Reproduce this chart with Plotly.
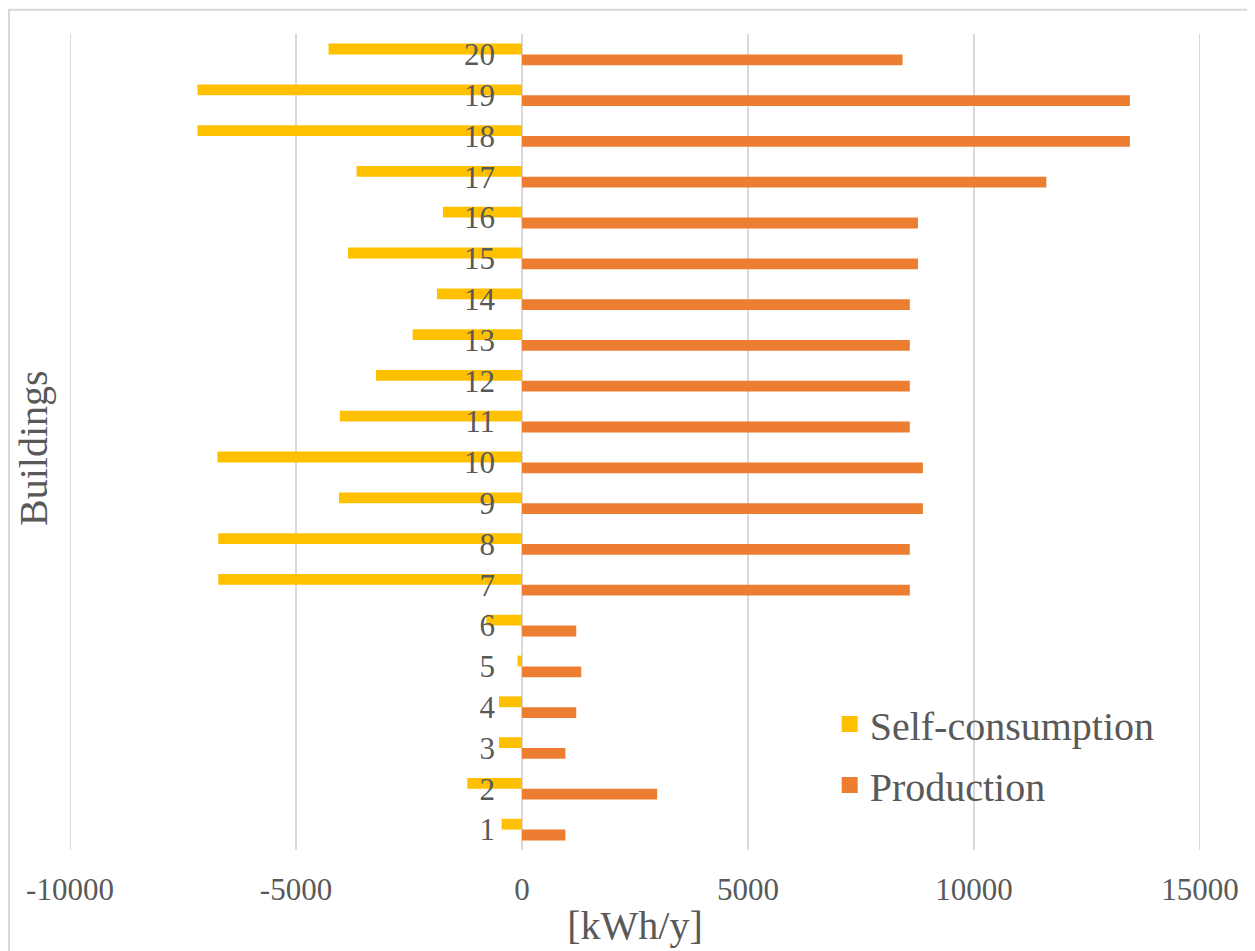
import plotly.graph_objects as go

buildings = [str(i) for i in range(1, 21)]
self_consumption = [-450, -1210, -510, -510, -100, -790, -6720, -6720, -4050, -6740,
                    -4030, -3230, -2420, -1880, -3850, -1750, -3660, -7180, -7180, -4280]
production = [960, 2990, 960, 1200, 1310, 1200, 8580, 8580, 8870, 8870,
              8580, 8580, 8580, 8580, 8760, 8760, 11600, 13450, 13450, 8420]
x_ticks = [-10000, -5000, 0, 5000, 10000, 15000]

YELLOW = "#FFC000"
ORANGE = "#ED7D31"
TEXT = "#595959"
GRID = "#D9D9D9"
FONT = "Times New Roman, Liberation Serif, serif"

# page has an 8px body margin; figure coordinates = page coordinates - 8
OFF = 8
W, H = 1255 - OFF, 951 - OFF
L = 70 - OFF
T = 33.5 - OFF
R = W - (1200.5 - OFF)
B = H - (854.5 - OFF)
pw = W - L - R
ph = H - T - B


def px_x(p):
    return (p - OFF - L) / pw


def px_y(p):
    return (H - B - (p - OFF)) / ph


fig = go.Figure()
fig.add_trace(go.Bar(y=buildings, x=production, orientation="h", name="Production",
                     marker=dict(color=ORANGE, line=dict(width=0)), showlegend=False))
fig.add_trace(go.Bar(y=buildings, x=self_consumption, orientation="h", name="Self-consumption",
                     marker=dict(color=YELLOW, line=dict(width=0)), showlegend=False))
# legend entries
fig.add_trace(go.Scatter(x=[None], y=[None], mode="markers", name="Self-consumption",
                         legendgroup="a", legendrank=1,
                         marker=dict(symbol="square", size=20, color=YELLOW)))
fig.add_trace(go.Scatter(x=[None], y=[None], mode="markers", name="Production",
                         legendgroup="b", legendrank=2,
                         marker=dict(symbol="square", size=20, color=ORANGE)))

zero_pos = (0 - x_ticks[0]) / (x_ticks[-1] - x_ticks[0])

shapes = [dict(type="rect", xref="paper", yref="paper",
               x0=px_x(OFF + 1), x1=px_x(1400), y0=px_y(1100), y1=px_y(OFF + 1),
               line=dict(color=GRID, width=2), fillcolor="rgba(0,0,0,0)", layer="below")]
# gridlines at the two range ends (plotly drops them at the edges)
for v in (x_ticks[0], x_ticks[-1]):
    shapes.append(dict(type="line", xref="x", yref="paper", x0=v, x1=v, y0=0, y1=1,
                       line=dict(color=GRID, width=2), layer="below"))

fig.update_layout(
    width=W, height=H,
    margin=dict(l=L, r=R, t=T, b=B),
    paper_bgcolor="white", plot_bgcolor="white",
    barmode="group", bargap=0.47, bargroupgap=0,
    font=dict(family=FONT, color=TEXT, size=31),
    showlegend=True,
    legend=dict(x=px_x(830), y=px_y(695), xanchor="left", yanchor="top",
                font=dict(size=40, color=TEXT), tracegroupgap=6,
                bgcolor="rgba(0,0,0,0)", itemsizing="trace"),
    xaxis=dict(range=[x_ticks[0], x_ticks[-1]], tickvals=x_ticks,
               ticktext=[str(v) for v in x_ticks],
               showgrid=True, gridcolor=GRID, gridwidth=2,
               zeroline=True, zerolinecolor=GRID, zerolinewidth=2,
               showline=False, ticks="", tickfont=dict(size=31, color=TEXT),
               ticklabelstandoff=18,
               title=dict(text="[kWh/y]", font=dict(size=40, color=TEXT), standoff=4)),
    yaxis=dict(type="category", categoryorder="array", categoryarray=buildings,
               anchor="free", position=zero_pos, side="left",
               showgrid=False, zeroline=False, showline=False, ticks="",
               tickfont=dict(size=31, color=TEXT), ticklabelstandoff=27),
    annotations=[dict(text="Buildings", textangle=-90, xref="paper", yref="paper",
                      x=px_x(34), y=px_y(450), xanchor="center", yanchor="middle",
                      showarrow=False, font=dict(size=40, color=TEXT))],
    shapes=shapes,
)

fig.write_html("out.html")
